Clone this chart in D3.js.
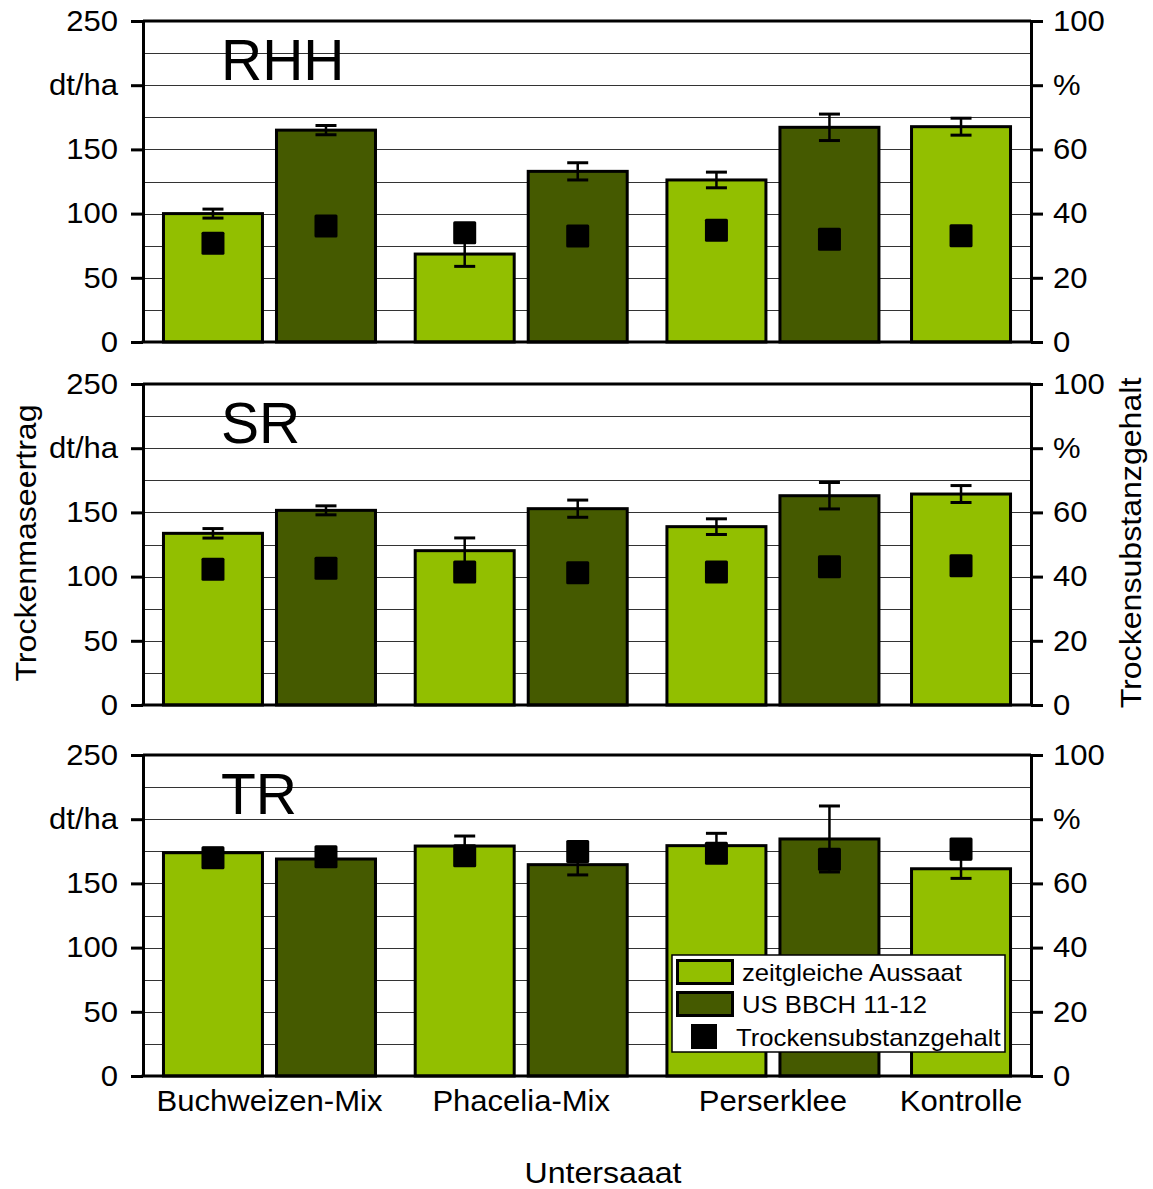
<!DOCTYPE html>
<html>
<head>
<meta charset="utf-8">
<script src="https://cdn.jsdelivr.net/npm/d3@7"></script>
<style>
  body { margin: 0; background: #fff; }
  svg { display: block; }
  text { font-family: "Liberation Sans", Arial, sans-serif; fill: #000; }
</style>
</head>
<body>
<svg id="chart" width="1153" height="1189"></svg>
<script>
// ---- data -------------------------------------------------------------
const categories = ["Buchweizen-Mix", "Phacelia-Mix", "Perserklee", "Kontrolle"];
const seriesNames = ["zeitgleiche Aussaat", "US BBCH 11-12"];
const dmName = "Trockensubstanzgehalt";
const sites = ["RHH", "SR", "TR"];

const yTicks = [0, 50, 100, 150, 200, 250];
const yTickLabels = ["0", "50", "100", "150", "dt/ha", "250"];
const y2Ticks = [0, 20, 40, 60, 80, 100];
const y2TickLabels = ["0", "20", "40", "60", "%", "100"];

// dry matter yield (dt/ha) with error, dry matter content (%)
const rhhZeit    = [100, 68.5, 126.2, 167.7];
const rhhZeitErr = [3.5, 9.6, 6.1, 6.6];
const rhhUS      = [165, 132.9, 167.2, null];
const rhhUSErr   = [3.6, 6.7, 10.3, null];
const rhhTsZeit  = [30.8, 34.0, 34.8, 33.1];
const rhhTsUS    = [36.1, 33.0, 32.0, null];

const srZeit     = [133.7, 120.2, 138.9, 164.3];
const srZeitErr  = [3.7, 9.9, 6.1, 6.6];
const srUS       = [151.6, 152.9, 163.0, null];
const srUSErr    = [3.5, 6.7, 10.3, null];
const srTsZeit   = [42.3, 41.4, 41.4, 43.4];
const srTsUS     = [42.6, 41.2, 43.1, null];

const trZeit     = [173.9, 179.1, 179.4, 161.4];
const trZeitErr  = [3.5, 7.8, 9.6, 7.5];
const trUS       = [169.0, 164.6, 184.6, null];
const trUSErr    = [3.6, 8.0, 25.7, null];
const trTsZeit   = [68.0, 68.6, 69.4, 70.7];
const trTsUS     = [68.3, 69.9, 67.5, null];

const panels = [
  { site: sites[0], vals: [rhhZeit, rhhUS], errs: [rhhZeitErr, rhhUSErr], ts: [rhhTsZeit, rhhTsUS] },
  { site: sites[1], vals: [srZeit, srUS],   errs: [srZeitErr, srUSErr],   ts: [srTsZeit, srTsUS] },
  { site: sites[2], vals: [trZeit, trUS],   errs: [trZeitErr, trUSErr],   ts: [trTsZeit, trTsUS] }
];

// ---- layout -----------------------------------------------------------
const colors = ["#92bf00", "#455a00"];
const plotLeft = 143, plotRight = 1031;
const panelTops = [21, 384, 755];
const panelH = 321;
const TEXT_STRETCH = 1.07;

// bar slots in units of one bar width
const EDGE = 0.186, INNER = 0.108;
const GROUP_GAPS = [0.36, 0.36, 0.29];
const slots = [];
const groupCenters = [];
let pos = EDGE;
categories.forEach((c, ci) => {
  const first = pos;
  seriesNames.forEach((s, si) => {
    if (rhhUS[ci] === null && si === 1) return;   // Kontrolle has no undersown variant
    slots.push({ ci, si, start: pos });
    pos += 1 + INNER;
  });
  pos -= INNER;
  groupCenters.push((first + pos) / 2);
  if (ci < categories.length - 1) pos += GROUP_GAPS[ci];
});
const totalUnits = pos + EDGE;
const x = d3.scaleLinear().domain([0, totalUnits]).range([plotLeft, plotRight]);

const svg = d3.select("#chart");

panels.forEach((p, pi) => {
  const g = svg.append("g").attr("transform", `translate(0,${panelTops[pi]})`);
  const y = d3.scaleLinear().domain([0, 250]).range([panelH, 0]);
  const y2 = d3.scaleLinear().domain([0, 100]).range([panelH, 0]);

  // horizontal gridlines every 25 dt/ha
  g.append("g").selectAll("line")
    .data(d3.range(25, 250, 25))
    .join("line")
    .attr("x1", plotLeft).attr("x2", plotRight)
    .attr("y1", d => Math.round(y(d)) + 0.5).attr("y2", d => Math.round(y(d)) + 0.5)
    .attr("stroke", "#333").attr("stroke-width", 1.2);

  const rows = slots.map(s => ({
    ...s,
    v: p.vals[s.si][s.ci],
    e: p.errs[s.si][s.ci],
    t: p.ts[s.si][s.ci]
  }));

  // bars
  g.append("g").selectAll("rect")
    .data(rows)
    .join("rect")
    .attr("x", d => x(d.start) + 1.5)
    .attr("width", d => x(d.start + 1) - x(d.start) - 3)
    .attr("y", d => y(d.v))
    .attr("height", d => y(0) - y(d.v))
    .attr("fill", d => colors[d.si])
    .attr("stroke", "#000").attr("stroke-width", 3);

  // error bars
  const eb = g.append("g").selectAll("g").data(rows).join("g");
  eb.append("line")
    .attr("x1", d => x(d.start + 0.5)).attr("x2", d => x(d.start + 0.5))
    .attr("y1", d => y(d.v - d.e)).attr("y2", d => y(d.v + d.e))
    .attr("stroke", "#000").attr("stroke-width", 2.5);
  [-1, 1].forEach(sign => {
    eb.append("line")
      .attr("x1", d => x(d.start + 0.5) - 10.5).attr("x2", d => x(d.start + 0.5) + 10.5)
      .attr("y1", d => y(d.v + sign * d.e)).attr("y2", d => y(d.v + sign * d.e))
      .attr("stroke", "#000").attr("stroke-width", 3);
  });

  // dry matter content markers (right axis)
  const sq = 23;
  g.append("g").selectAll("rect")
    .data(rows)
    .join("rect")
    .attr("x", d => x(d.start + 0.5) - sq / 2)
    .attr("y", d => y2(d.t) - sq / 2)
    .attr("width", sq).attr("height", sq)
    .attr("rx", 1.5)
    .attr("fill", "#000");

  // frame
  g.append("line").attr("x1", plotLeft).attr("x2", plotRight)
    .attr("y1", 0).attr("y2", 0).attr("stroke", "#000").attr("stroke-width", 3);
  g.append("line").attr("x1", plotLeft - 1.5).attr("x2", plotRight + 1.5)
    .attr("y1", panelH).attr("y2", panelH).attr("stroke", "#000").attr("stroke-width", 3);

  // left axis
  const axL = g.append("g").attr("transform", `translate(${plotLeft},0)`)
    .call(d3.axisLeft(y).tickValues(yTicks)
      .tickFormat((d, i) => yTickLabels[i])
      .tickSize(12).tickSizeOuter(0).tickPadding(13));
  axL.select(".domain").attr("stroke-width", 3);
  axL.selectAll(".tick line").attr("stroke-width", 3);
  axL.selectAll("text").style("font-size", "29px").attr("fill", "#000").classed("stretch", true);

  // right axis
  const axR = g.append("g").attr("transform", `translate(${plotRight},0)`)
    .call(d3.axisRight(y2).tickValues(y2Ticks)
      .tickFormat((d, i) => y2TickLabels[i])
      .tickSize(12).tickSizeOuter(0).tickPadding(10));
  axR.select(".domain").attr("stroke-width", 3);
  axR.selectAll(".tick line").attr("stroke-width", 3);
  axR.selectAll("text").style("font-size", "29px").attr("fill", "#000").classed("stretch", true);

  // site title
  g.append("text").attr("x", 221).attr("y", 59)
    .style("font-size", "57px").text(p.site);
});

// category labels
svg.append("g").selectAll("text")
  .data(categories)
  .join("text")
  .attr("class", "stretch")
  .attr("x", (d, i) => x(groupCenters[i]))
  .attr("y", 1111)
  .attr("text-anchor", "middle")
  .style("font-size", "29px")
  .text(d => d);

// axis titles
svg.append("text").attr("class", "stretch").attr("x", 603).attr("y", 1183)
  .attr("text-anchor", "middle").style("font-size", "30px").text("Untersaaat");
svg.append("text").attr("class", "stretch").attr("transform", "translate(36,543) rotate(-90)")
  .attr("text-anchor", "middle").style("font-size", "30px").text("Trockenmaseertrag");
svg.append("text").attr("class", "stretch").attr("transform", "translate(1141,543) rotate(-90)")
  .attr("text-anchor", "middle").style("font-size", "30px").text(dmName);

// legend
const lg = svg.append("g").attr("transform", "translate(672,955)");
lg.append("rect").attr("width", 333).attr("height", 97)
  .attr("fill", "#fff").attr("stroke", "#000").attr("stroke-width", 1.5);
seriesNames.forEach((s, i) => {
  lg.append("rect").attr("x", 5.5).attr("y", 5.5 + i * 32).attr("width", 55).attr("height", 23)
    .attr("fill", colors[i]).attr("stroke", "#000").attr("stroke-width", 3);
  lg.append("text").attr("class", "stretch").attr("x", 70).attr("y", 26 + i * 32)
    .style("font-size", "24px").text(s);
});
lg.append("rect").attr("x", 19).attr("y", 69).attr("width", 26).attr("height", 25)
  .attr("fill", "#000");
lg.append("text").attr("class", "stretch").attr("x", 64).attr("y", 91)
  .style("font-size", "24px").text(dmName);

// the small text runs a little wide
svg.selectAll("text.stretch").each(function () {
  const len = this.getComputedTextLength();
  d3.select(this).attr("textLength", len * TEXT_STRETCH).attr("lengthAdjust", "spacingAndGlyphs");
});
</script>
</body>
</html>
